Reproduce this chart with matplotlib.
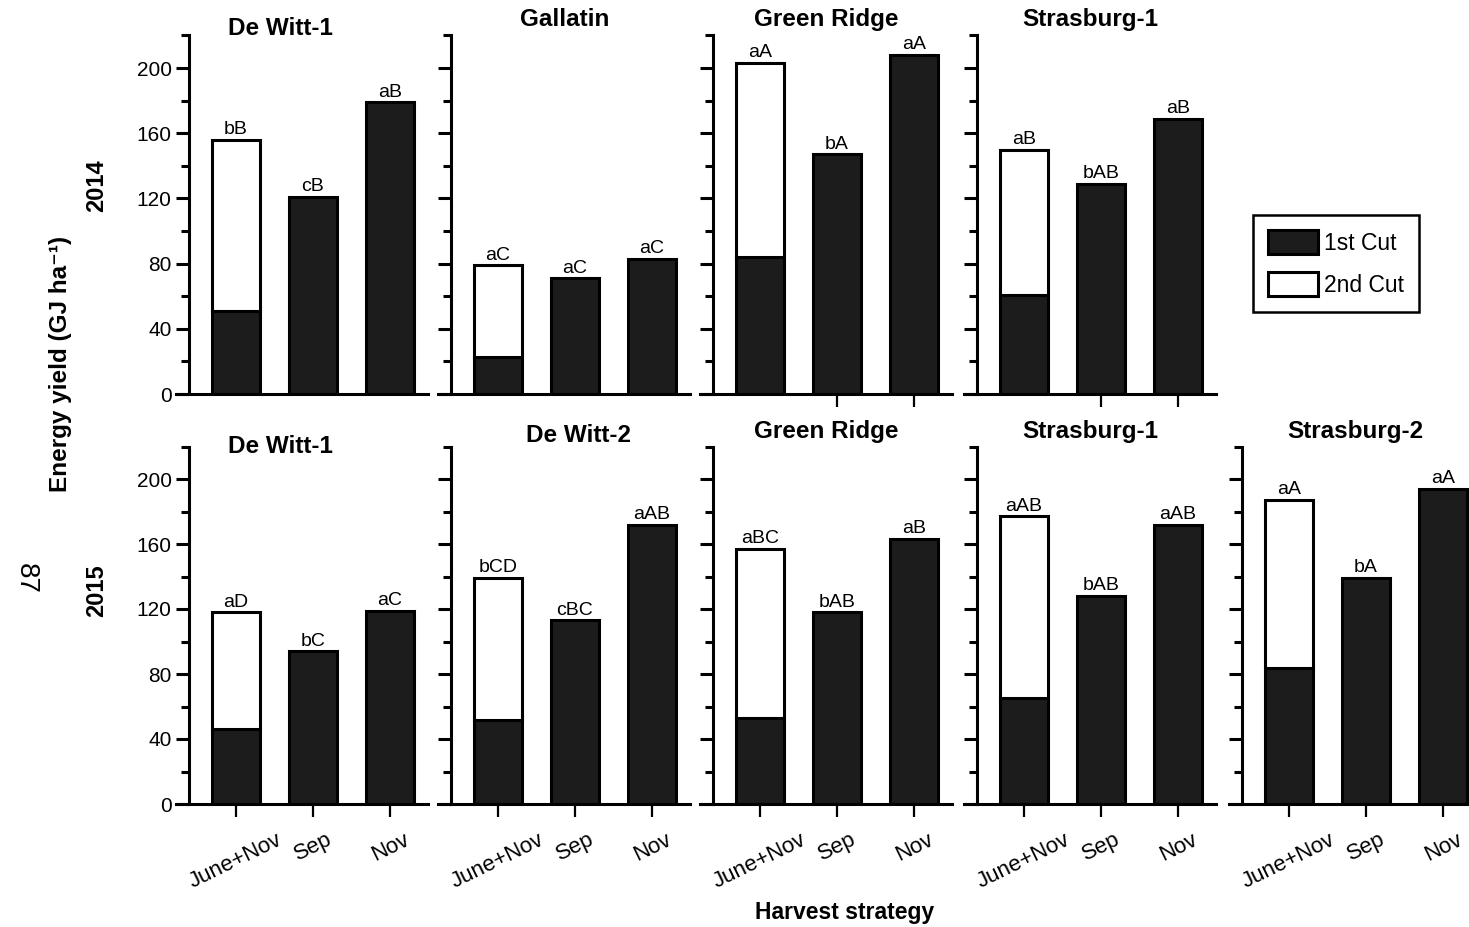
import matplotlib
matplotlib.use("Agg")
import matplotlib.pyplot as plt
from matplotlib.patches import Patch
from matplotlib.transforms import offset_copy

plt.rcParams['font.family'] = ['Liberation Sans', 'DejaVu Sans']

# harvest strategies on the x axis
categories = ['June+Nov', 'Sep', 'Nov']

# 2014 sites
sites_2014 = ['De Witt-1', 'Gallatin', 'Green Ridge', 'Strasburg-1']
first_cut_2014 = [51, 23, 84, 61]        # June cut of June+Nov
total_2014 = [156, 79, 203, 150]         # June+Nov total
sep_2014 = [121, 71, 147, 129]
nov_2014 = [179, 83, 208, 169]
letters_2014 = [['bB', 'cB', 'aB'],
                ['aC', 'aC', 'aC'],
                ['aA', 'bA', 'aA'],
                ['aB', 'bAB', 'aB']]

# 2015 sites
sites_2015 = ['De Witt-1', 'De Witt-2', 'Green Ridge', 'Strasburg-1', 'Strasburg-2']
first_cut_2015 = [46, 52, 53, 65, 84]
total_2015 = [118, 139, 157, 177, 187]
sep_2015 = [94, 113, 118, 128, 139]
nov_2015 = [119, 172, 163, 172, 194]
letters_2015 = [['aD', 'bC', 'aC'],
                ['bCD', 'cBC', 'aAB'],
                ['aBC', 'bAB', 'aB'],
                ['aAB', 'bAB', 'aAB'],
                ['aA', 'bA', 'aA']]

DARK = '#1c1c1c'
LW = 2.2

W, H = 1469, 927
fig = plt.figure(figsize=(W / 100, H / 100), dpi=100)

# panel layout in pixels
spine_px = [189, 451, 713, 977, 1242]
row_zero = [394, 804]
px_per_unit = [1.63, 1.625]
x_lo, x_hi, x_spine = 0.22, 3.5, 0.39
px_per_cat = 77.0


def make_axes(col, row):
    left = spine_px[col] - (x_spine - x_lo) * px_per_cat
    width = (x_hi - x_lo) * px_per_cat
    height = 220 * px_per_unit[row]
    bottom = H - row_zero[row]
    ax = fig.add_axes([left / W, bottom / H, width / W, height / H])
    ax.set_xlim(x_lo, x_hi)
    ax.set_ylim(0, 220)
    ax.patch.set_alpha(0)
    for s in ['top', 'right']:
        ax.spines[s].set_visible(False)
    ax.spines['left'].set_position(('data', x_spine))
    for s in ['left', 'bottom']:
        ax.spines[s].set_linewidth(LW)
    ax.set_yticks(range(0, 201, 40))
    ax.set_yticks(range(20, 221, 40), minor=True)
    ax.tick_params(axis='y', which='major', length=9.5, width=LW,
                   labelsize=15, pad=3)
    ax.tick_params(axis='y', which='minor', length=5.5, width=LW)
    ax.tick_params(axis='x', length=9, width=1.6, labelsize=16, pad=9)
    if col > 0:
        ax.tick_params(axis='y', labelleft=False)
    return ax


def draw_panel(ax, first, total, sep, nov, letters):
    x = [1, 2, 3]
    ax.bar(x[0], first, width=0.62, color=DARK, edgecolor='black', linewidth=LW)
    ax.bar(x[0], total - first, bottom=first, width=0.62, color='white',
           edgecolor='black', linewidth=LW)
    ax.bar(x[1:], [sep, nov], width=0.62, color=DARK, edgecolor='black',
           linewidth=LW)
    for xi, top, lab in zip(x, [total, sep, nov], letters):
        ax.annotate(lab, (xi, top), xytext=(0, 1.2), textcoords='offset points',
                    ha='center', va='bottom', fontsize=14)


def add_title(ax, name, dx=0, dy=9):
    tr = offset_copy(ax.transAxes, fig=fig, x=dx, y=dy, units='dots')
    ax.text(0.5, 1.0, name, transform=tr, ha='center', va='baseline',
            fontsize=17.5, fontweight='bold')


# top row, 2014
for i, site in enumerate(sites_2014):
    ax = make_axes(i, 0)
    draw_panel(ax, first_cut_2014[i], total_2014[i], sep_2014[i], nov_2014[i],
               letters_2014[i])
    if i < 2:
        ax.set_xticks([])
    else:
        ax.set_xticks([2, 3])
        ax.set_xticklabels([])
    if i == 0:
        add_title(ax, site, dx=-22, dy=0)
    else:
        add_title(ax, site)

# bottom row, 2015
for i, site in enumerate(sites_2015):
    ax = make_axes(i, 1)
    draw_panel(ax, first_cut_2015[i], total_2015[i], sep_2015[i], nov_2015[i],
               letters_2015[i])
    ax.set_xticks([1, 2, 3])
    ax.set_xticklabels(categories, rotation=26, ha='center')
    if i == 0:
        add_title(ax, site, dx=-22, dy=-6)
    elif i == 1:
        add_title(ax, site, dx=14, dy=5)
    else:
        add_title(ax, site, dy=8.5)

# legend in the empty top-right slot
handles = [Patch(facecolor=DARK, edgecolor='black', linewidth=LW, label='1st Cut'),
           Patch(facecolor='white', edgecolor='black', linewidth=LW, label='2nd Cut')]
leg = fig.legend(handles=handles, loc='upper left',
                 bbox_to_anchor=(1253 / W, 1 - 215 / H), borderaxespad=0,
                 fontsize=16.5, fancybox=False, edgecolor='black', framealpha=1,
                 handlelength=2.2, handleheight=1.25, handletextpad=0.25,
                 labelspacing=0.75, borderpad=0.65)
leg.get_frame().set_linewidth(1.8)

fig.text(61 / W, 1 - 364 / H, 'Energy yield (GJ ha\u207b\u00b9)', rotation=90,
         ha='center', va='center', fontsize=17.5, fontweight='bold')
fig.text(97 / W, 1 - 186 / H, '2014', rotation=90, ha='center', va='center',
         fontsize=17, fontweight='bold')
fig.text(97 / W, 1 - 591 / H, '2015', rotation=90, ha='center', va='center',
         fontsize=17, fontweight='bold')
fig.text(845 / W, 1 - 912 / H, 'Harvest strategy', ha='center', va='center',
         fontsize=16.5, fontweight='bold')
fig.text(26 / W, 1 - 578 / H, '87', rotation=-90, ha='center', va='center',
         fontsize=20)

fig.savefig('out.png', dpi=100)
